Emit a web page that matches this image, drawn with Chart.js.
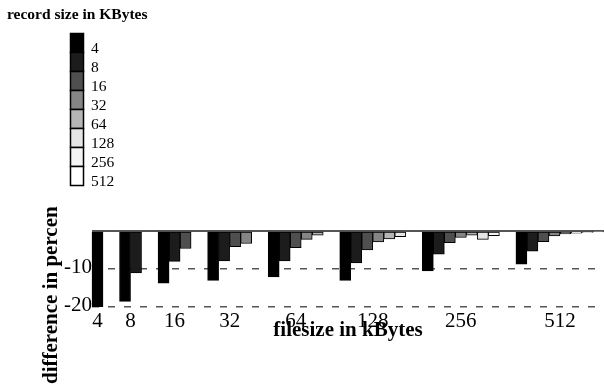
<!DOCTYPE html>
<html>
<head>
<meta charset="utf-8">
<script src="https://cdn.jsdelivr.net/npm/chart.js@4.4.1/dist/chart.umd.min.js"></script>
<style>
  html, body { margin: 0; padding: 0; background: #fff; }
</style>
</head>
<body>
<canvas id="diffChart" width="604" height="387"></canvas>
<script>
// filesize groups on the x axis, record sizes as series
const fileSizes = ['4', '8', '16', '32', '64', '128', '256', '512'];
const recordSizes = ['4', '8', '16', '32', '64', '128', '256', '512'];

// difference in percent, one array per record size (null = record > file)
const rec4   = [-20.5, -18.5, -13.7, -13.0, -12.1, -13.0, -10.5, -8.7];
const rec8   = [null, -11.0, -8.0, -7.9, -7.9, -8.4, -6.1, -5.3];
const rec16  = [null, null, -4.6, -4.1, -4.4, -5.0, -3.1, -2.8];
const rec32  = [null, null, null, -3.3, -2.2, -2.9, -1.7, -1.3];
const rec64  = [null, null, null, null, -1.1, -2.1, -1.1, -0.8];
const rec128 = [null, null, null, null, null, -1.5, -2.2, -0.6];
const rec256 = [null, null, null, null, null, null, -1.2, -0.4];
const rec512 = [null, null, null, null, null, null, null, -0.2];

const yTicks = [-20, -10, 0];

const seriesValues = [rec4, rec8, rec16, rec32, rec64, rec128, rec256, rec512];
const shades = ['#000000', '#1c1c1c', '#4f4f4f', '#858585', '#b5b5b5', '#e5e5e5', '#f4f4f4', '#ffffff'];

const serif = '"Liberation Serif", "Times New Roman", serif';
const GAP = 1.5; // empty space between filesize groups, in bar widths

// every bar gets its own slot on a linear x axis, so groups can differ in width
const groupStart = [];
const groupCenter = [];
let slot = 0;
fileSizes.forEach((f, g) => {
    const count = seriesValues.filter(s => s[g] !== null).length;
    groupStart.push(slot);
    groupCenter.push(slot + (count - 1) / 2);
    slot += count + GAP;
});

const datasets = seriesValues.map((values, i) => {
    const points = [];
    values.forEach((v, g) => {
        if (v === null) return;
        const rank = seriesValues.slice(0, i).filter(s => s[g] !== null).length;
        points.push({ x: groupStart[g] + rank, y: v });
    });
    return {
        label: recordSizes[i],
        data: points,
        backgroundColor: shades[i],
        borderColor: '#000',
        borderWidth: 1,
        borderSkipped: false,
        grouped: false,
        barPercentage: 1,
        categoryPercentage: 1,
        clip: { left: 5, top: 5, right: 5, bottom: 0 }
    };
});

const lastSlot = slot - GAP - 1;

const boxLegend = {
    id: 'boxLegend',
    afterDraw(chart) {
        const ctx = chart.ctx;
        ctx.save();
        ctx.fillStyle = '#000';
        ctx.textAlign = 'left';
        ctx.textBaseline = 'alphabetic';
        ctx.font = 'bold 15.5px ' + serif;
        ctx.fillText('record size in KBytes', 7, 19);

        ctx.font = '15.5px ' + serif;
        chart.data.datasets.forEach((ds, i) => {
            const top = 33 + i * 19;
            ctx.fillStyle = ds.backgroundColor;
            ctx.fillRect(70, top, 14, 19);
            ctx.strokeStyle = '#000';
            ctx.lineWidth = 1.5;
            ctx.strokeRect(70.5, top + 0.5, 13, 19);
            ctx.fillStyle = '#000';
            ctx.fillText(ds.label, 91, top + 20);
        });

        // y axis title, sits lower than the plot like in the original
        ctx.translate(56.5, 384);
        ctx.rotate(-Math.PI / 2);
        ctx.font = 'bold 21px ' + serif;
        ctx.fillText('difference in percen', 0, 0);
        ctx.restore();
    }
};

new Chart(document.getElementById('diffChart'), {
    type: 'bar',
    data: { datasets: datasets },
    options: {
        responsive: false,
        animation: false,
        layout: { padding: { top: 231, left: 0, right: 0, bottom: 0 } },
        plugins: {
            legend: { display: false },
            tooltip: { enabled: false }
        },
        scales: {
            x: {
                type: 'linear',
                offset: false,
                min: -0.5,
                max: lastSlot + 0.5,
                afterBuildTicks: scale => {
                    scale.ticks = groupCenter.map(v => ({ value: v }));
                },
                afterFit: scale => { scale.height = 80; },
                ticks: {
                    autoSkip: false,
                    maxRotation: 0,
                    padding: -6,
                    color: '#000',
                    font: { family: serif, size: 21 },
                    callback: (value, index) => fileSizes[index]
                },
                grid: { display: false },
                border: { display: false },
                title: {
                    display: true,
                    text: 'filesize in kBytes',
                    color: '#000',
                    font: { family: serif, size: 21, weight: 'bold' },
                    padding: { top: 0, bottom: 44 }
                }
            },
            y: {
                min: -20,
                max: 0,
                afterBuildTicks: scale => {
                    scale.ticks = yTicks.map(v => ({ value: v }));
                },
                afterFit: scale => { scale.width = 92; },
                ticks: {
                    padding: 0,
                    labelOffset: -2,
                    color: '#000',
                    font: { family: serif, size: 21 },
                    callback: value => value === 0 ? '' : value
                },
                grid: {
                    drawTicks: false,
                    color: '#555',
                    lineWidth: ctx => ctx.tick && ctx.tick.value === 0 ? 2 : 1.5
                },
                border: {
                    display: false,
                    dash: ctx => ctx.tick && ctx.tick.value === 0 ? [] : [7, 9]
                }
            }
        }
    },
    plugins: [boxLegend]
});
</script>
</body>
</html>
